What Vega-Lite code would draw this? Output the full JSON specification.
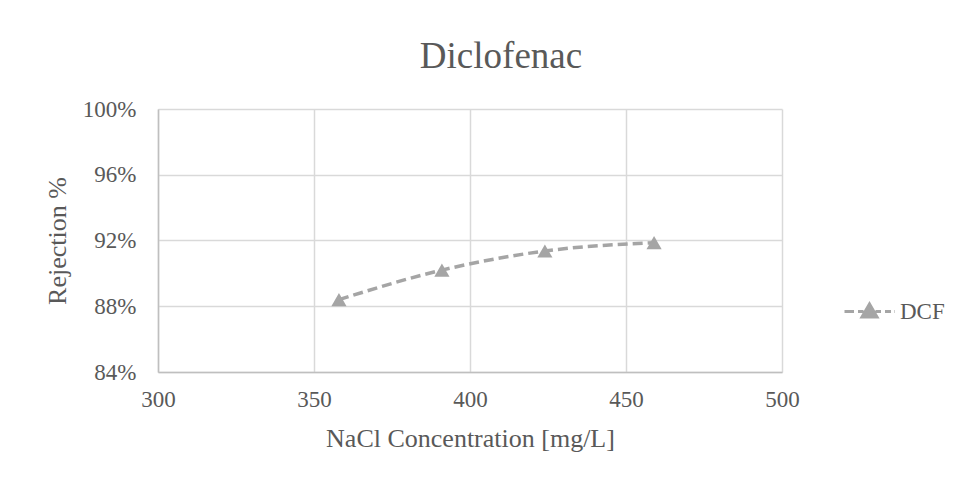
{
  "$schema": "https://vega.github.io/schema/vega-lite/v6.json",
  "autosize": {"type": "none"},
  "padding": {"left": 158, "top": 109, "right": 196, "bottom": 105},
  "width": 624,
  "height": 263,
  "background": "white",
  "config": {
    "view": {"stroke": null},
    "font": "Liberation Serif",
    "legend": {"labelFont": "Liberation Serif"}
  },
  "title": {
    "text": "Diclofenac",
    "font": "Liberation Serif",
    "fontSize": 37,
    "fontWeight": "normal",
    "color": "#595959",
    "anchor": "middle",
    "dx": 31,
    "offset": 22
  },
  "data": {
    "values": [
      {"nacl": 358, "rejection": 0.884, "series": "DCF"},
      {"nacl": 391, "rejection": 0.902, "series": "DCF"},
      {"nacl": 424, "rejection": 0.9136, "series": "DCF"},
      {"nacl": 459, "rejection": 0.9187, "series": "DCF"}
    ]
  },
  "encoding": {
    "x": {
      "field": "nacl",
      "type": "quantitative",
      "scale": {"domain": [300, 500], "nice": false},
      "axis": {
        "title": "NaCl Concentration [mg/L]",
        "values": [300, 350, 400, 450, 500],
        "grid": true,
        "gridColor": "#d9d9d9",
        "gridWidth": 1.5,
        "domainColor": "#bfbfbf",
        "domainWidth": 1.5,
        "ticks": false,
        "labelFlush": false,
        "labelFont": "Liberation Serif",
        "labelFontSize": 23,
        "labelColor": "#595959",
        "labelPadding": 16,
        "titleFont": "Liberation Serif",
        "titleFontSize": 26,
        "titleFontWeight": "normal",
        "titleColor": "#595959",
        "titlePadding": 14
      }
    },
    "y": {
      "field": "rejection",
      "type": "quantitative",
      "scale": {"domain": [0.84, 1.0], "nice": false, "zero": false},
      "axis": {
        "title": "Rejection %",
        "values": [0.84, 0.88, 0.92, 0.96, 1.0],
        "format": ".0%",
        "grid": true,
        "gridColor": "#d9d9d9",
        "gridWidth": 1.5,
        "domainColor": "#bfbfbf",
        "domainWidth": 1.5,
        "ticks": false,
        "labelFont": "Liberation Serif",
        "labelFontSize": 23,
        "labelColor": "#595959",
        "labelPadding": 22,
        "titleFont": "Liberation Serif",
        "titleFontSize": 26,
        "titleFontWeight": "normal",
        "titleColor": "#595959",
        "titlePadding": 12
      }
    }
  },
  "layer": [
    {
      "mark": {
        "type": "line",
        "interpolate": "monotone",
        "strokeDash": [10, 5],
        "strokeWidth": 3.5
      },
      "encoding": {
        "color": {
          "field": "series",
          "type": "nominal",
          "scale": {"range": ["#a5a5a5"]},
          "legend": {
            "title": null,
            "orient": "none",
            "legendX": 685,
            "legendY": 176,
            "symbolType": "M-1,0H-0.62M-0.46,0H-0.24M0.24,0H0.46M0.62,0H0.86M0.98,0H1M0,-0.3L0.3,0.22L-0.3,0.22Z",
            "symbolSize": 2500,
            "symbolStrokeWidth": 3,
            "symbolStrokeColor": "#a5a5a5",
            "symbolFillColor": "#a5a5a5",
            "labelFont": "Liberation Serif",
            "labelFontSize": 23,
            "labelColor": "#595959",
            "labelOffset": 4
          }
        }
      }
    },
    {
      "mark": {
        "type": "point",
        "shape": "triangle-up",
        "filled": true,
        "size": 230,
        "color": "#a5a5a5",
        "opacity": 1
      }
    }
  ]
}
